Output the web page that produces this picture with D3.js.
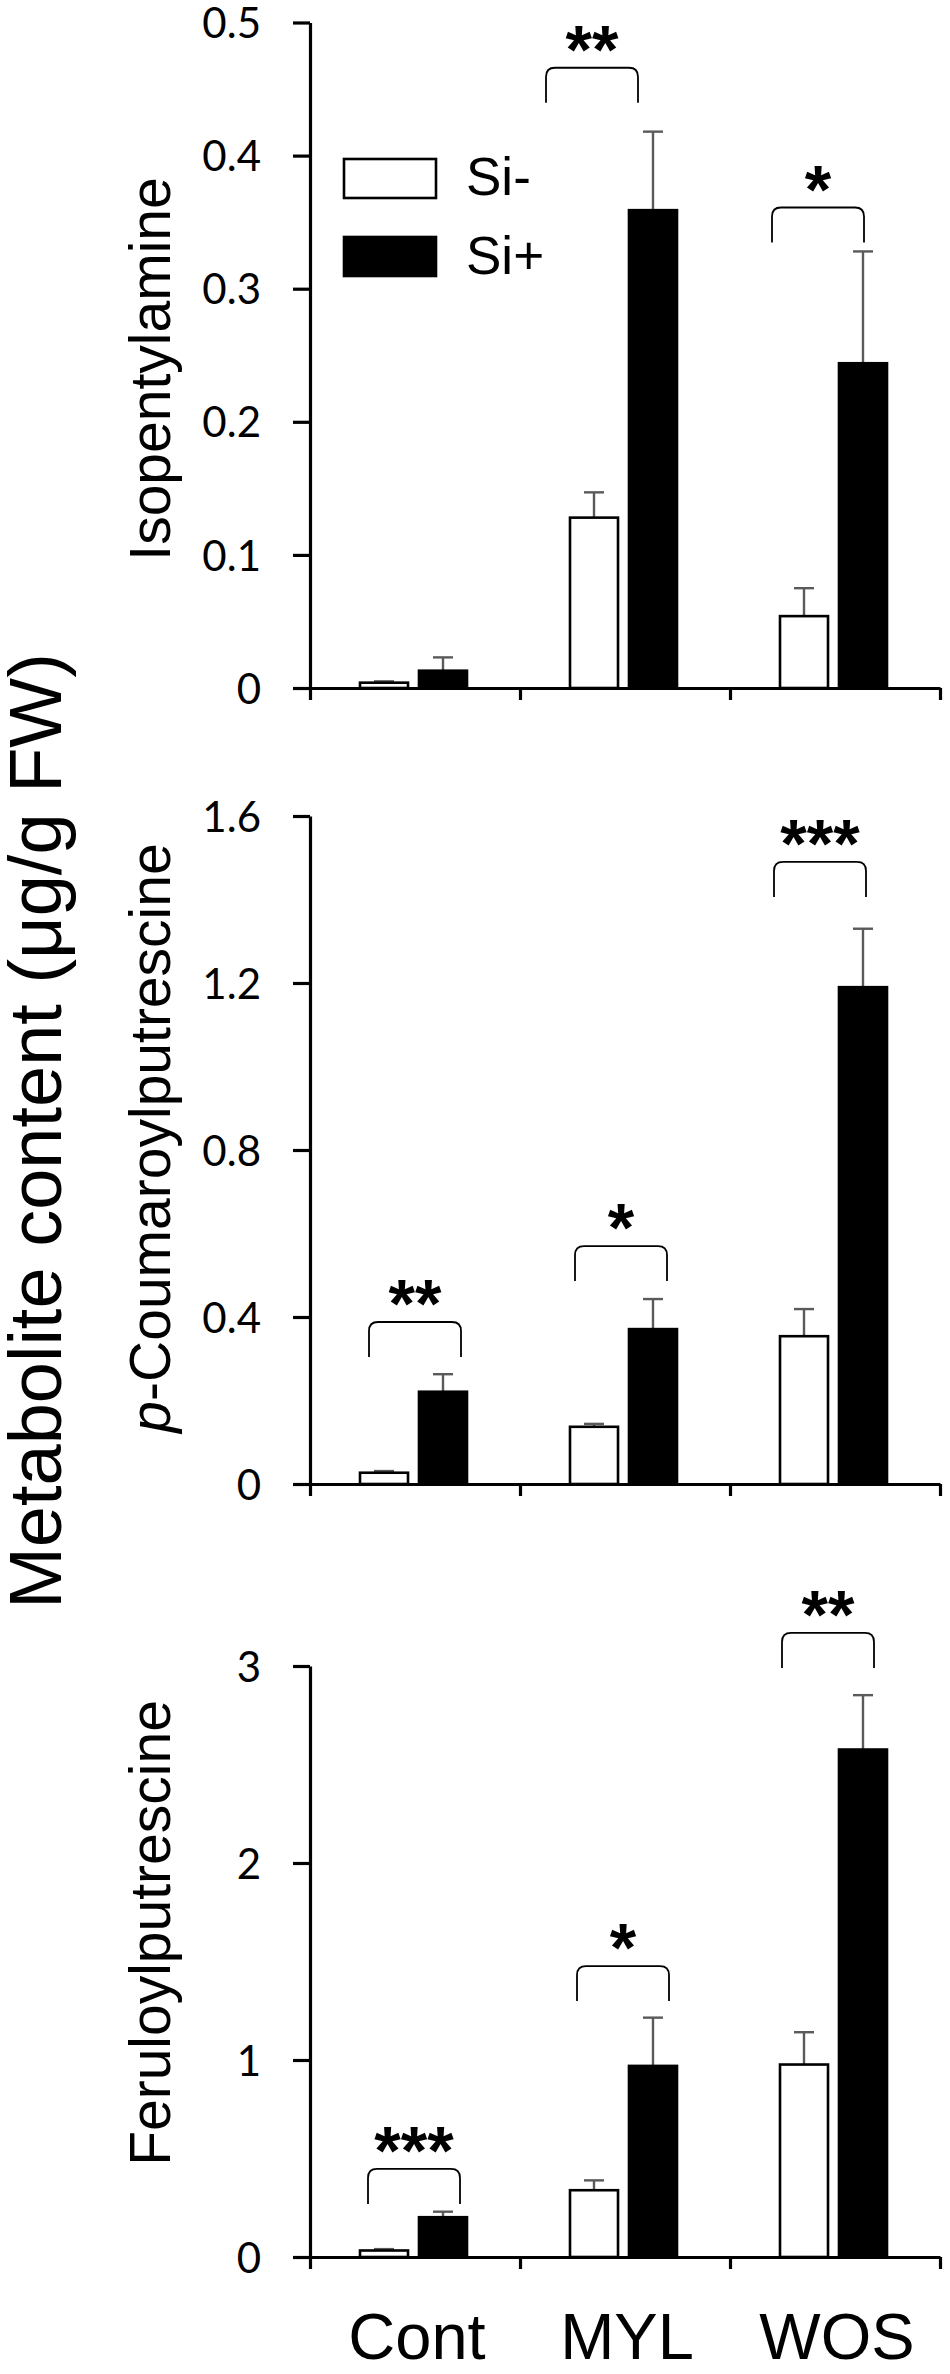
<!DOCTYPE html>
<html>
<head>
<meta charset="utf-8">
<script src="https://cdn.jsdelivr.net/npm/d3@7"></script>
<style>
  body { margin: 0; background: #fff; }
  svg { display: block; }
</style>
</head>
<body>
<div id="chart"></div>
<script>
// values (µg/g FW)
const categories = ["Cont", "MYL", "WOS"]
const treatments = ["Si-", "Si+"]

const isoMinus = [0.004, 0.128, 0.054]
const isoMinusErr = [0.001, 0.019, 0.021]
const isoPlus = [0.013, 0.359, 0.244]
const isoPlusErr = [0.010, 0.059, 0.084]
const isoTicks = [0, 0.1, 0.2, 0.3, 0.4, 0.5]
const isoStars = [null, "**", "*"]
const isoStarLevel = [null, 0.466, 0.361]

const coumMinus = [0.027, 0.137, 0.354]
const coumMinusErr = [0.004, 0.007, 0.065]
const coumPlus = [0.221, 0.371, 1.190]
const coumPlusErr = [0.042, 0.072, 0.140]
const coumTicks = [0, 0.4, 0.8, 1.2, 1.6]
const coumStars = ["**", "*", "***"]
const coumStarLevel = [0.388, 0.570, 1.490]

const ferMinus = [0.033, 0.339, 0.977]
const ferMinusErr = [0.007, 0.050, 0.164]
const ferPlus = [0.202, 0.970, 2.576]
const ferPlusErr = [0.028, 0.245, 0.276]
const ferTicks = [0, 1, 2, 3]
const ferStars = ["***", "*", "**"]
const ferStarLevel = [0.447, 1.477, 3.168]

const yTitle = "Metabolite content (μg/g FW)"

// layout
const width = 950, height = 2374
const axisLeft = 310, axisRight = 940
const sans = "'Liberation Sans', Arial, sans-serif"
const tickFont = "Lato, 'Open Sans', sans-serif"

const panels = [
  {label: [{t: "Isopentylamine"}], minus: isoMinus, minusErr: isoMinusErr,
   plus: isoPlus, plusErr: isoPlusErr, ticks: isoTicks, stars: isoStars,
   starLevel: isoStarLevel, top: 22.5, bottom: 688, labelY: 369,
   nudge: [0, -24, -8], legend: true},
  {label: [{t: "p", italic: true}, {t: "-Coumaroylputrescine"}], minus: coumMinus,
   minusErr: coumMinusErr, plus: coumPlus, plusErr: coumPlusErr, ticks: coumTicks,
   stars: coumStars, starLevel: coumStarLevel, top: 816, bottom: 1484, labelY: 1138,
   nudge: [9, 5, -6]},
  {label: [{t: "Feruloylputrescine"}], minus: ferMinus, minusErr: ferMinusErr,
   plus: ferPlus, plusErr: ferPlusErr, ticks: ferTicks, stars: ferStars,
   starLevel: ferStarLevel, top: 1666, bottom: 2257, labelY: 1933,
   nudge: [8, 7, 2], categoryLabels: true}
]

const svg = d3.select("#chart").append("svg")
  .attr("width", width)
  .attr("height", height)

const x0 = d3.scaleBand()
  .domain(categories)
  .range([axisLeft, axisRight])
  .paddingInner(0)
  .paddingOuter(0)

const x1 = d3.scaleBand()
  .domain(treatments)
  .range([50, 157])
  .paddingInner(0.186)

const xEdge = d3.scaleLinear()
  .domain([0, categories.length])
  .range([axisLeft, axisRight])

const fmt = d => d === 0 ? "0" : (Number.isInteger(d) ? String(d) : d3.format(".1f")(d))

panels.forEach(p => {
  const y = d3.scaleLinear()
    .domain([0, d3.max(p.ticks)])
    .range([p.bottom, p.top])

  const g = svg.append("g")

  // y axis
  const ay = g.append("g")
    .attr("transform", `translate(${axisLeft},0)`)
    .call(d3.axisLeft(y).tickValues(p.ticks).tickFormat(fmt).tickSize(17).tickSizeOuter(0).tickPadding(32))
  ay.select(".domain").attr("stroke", "#000").attr("stroke-width", 3.2)
  ay.selectAll(".tick line").attr("stroke", "#000").attr("stroke-width", 3.2)
  ay.selectAll(".tick text")
    .attr("font-family", tickFont)
    .attr("font-size", 42)
    .attr("fill", "#000")
    .attr("dy", "0.36em")

  // x axis (category boundaries)
  const ax = g.append("g")
    .attr("transform", `translate(0,${p.bottom})`)
    .call(d3.axisBottom(xEdge).tickValues(d3.range(categories.length + 1)).tickFormat("").tickSize(12).tickSizeOuter(0))
  ax.select(".domain").attr("stroke", "#000").attr("stroke-width", 3.2)
  ax.selectAll(".tick line").attr("stroke", "#000").attr("stroke-width", 3.2)

  // bars
  const rows = categories.map((c, i) => [
    {cat: c, tr: "Si-", v: p.minus[i], e: p.minusErr[i]},
    {cat: c, tr: "Si+", v: p.plus[i], e: p.plusErr[i]}
  ]).flat()

  const bars = g.append("g")
  // error bars first, drawn behind the bar tops
  bars.selectAll("g.err")
    .data(rows)
    .join("g")
      .attr("class", "err")
      .each(function(d) {
        const cx = x0(d.cat) + x1(d.tr) + x1.bandwidth() / 2
        const sel = d3.select(this)
        sel.append("line")
          .attr("x1", cx).attr("x2", cx)
          .attr("y1", y(d.v)).attr("y2", y(d.v + d.e))
          .attr("stroke", "#5a5a5a").attr("stroke-width", 2.4)
        sel.append("line")
          .attr("x1", cx - 10).attr("x2", cx + 10)
          .attr("y1", y(d.v + d.e)).attr("y2", y(d.v + d.e))
          .attr("stroke", "#5a5a5a").attr("stroke-width", 2.4)
      })

  bars.selectAll("rect")
    .data(rows)
    .join("rect")
      .attr("x", d => x0(d.cat) + x1(d.tr))
      .attr("y", d => y(d.v))
      .attr("width", x1.bandwidth())
      .attr("height", d => y(0) - y(d.v))
      .attr("fill", d => d.tr === "Si-" ? "#fff" : "#000")
      .attr("stroke", "#000")
      .attr("stroke-width", 2.6)

  // significance brackets
  const sig = g.append("g")
  categories.forEach((c, i) => {
    if (!p.stars[i]) return
    const left = x0(c) + x1("Si-") + p.nudge[i]
    const right = left + 92
    const top = y(p.starLevel[i])
    const leg = 35, r = 9
    sig.append("path")
      .attr("d", `M${left},${top + leg} L${left},${top + r} Q${left},${top} ${left + r},${top}
        L${right - r},${top} Q${right},${top} ${right},${top + r} L${right},${top + leg}`)
      .attr("fill", "none")
      .attr("stroke", "#000")
      .attr("stroke-width", 1.8)
    sig.append("text")
      .attr("x", (left + right) / 2)
      .attr("y", top + 5)
      .attr("text-anchor", "middle")
      .attr("font-family", sans)
      .attr("font-weight", 700)
      .attr("font-size", 68)
      .attr("fill", "#000")
      .text(p.stars[i])
  })

  // panel y label
  const lab = g.append("text")
    .attr("transform", `translate(170,${p.labelY}) rotate(-90)`)
    .attr("text-anchor", "middle")
    .attr("font-family", sans)
    .attr("font-size", 57)
    .attr("fill", "#000")
  p.label.forEach(s => {
    lab.append("tspan")
      .attr("font-style", s.italic ? "italic" : null)
      .text(s.t)
  })

  if (p.legend) {
    const lg = g.append("g")
    treatments.forEach((t, i) => {
      lg.append("rect")
        .attr("x", 344).attr("y", 159 + i * 78)
        .attr("width", 92).attr("height", 39)
        .attr("fill", t === "Si-" ? "#fff" : "#000")
        .attr("stroke", "#000").attr("stroke-width", 2.6)
      lg.append("text")
        .attr("x", 466).attr("y", 195 + i * 79)
        .attr("font-family", sans)
        .attr("font-size", 53)
        .attr("fill", "#000")
        .text(t)
    })
  }

  if (p.categoryLabels) {
    g.append("g").selectAll("text")
      .data(categories)
      .join("text")
        .attr("x", d => x0(d) + x0.bandwidth() / 2 + 2)
        .attr("y", 2359)
        .attr("text-anchor", "middle")
        .attr("font-family", sans)
        .attr("font-size", 65)
        .attr("fill", "#000")
        .text(d => d)
  }
})

// shared y title
svg.append("text")
  .attr("transform", `translate(61,1131) rotate(-90)`)
  .attr("text-anchor", "middle")
  .attr("font-family", sans)
  .attr("font-size", 74)
  .attr("fill", "#000")
  .text(yTitle)
</script>
</body>
</html>
